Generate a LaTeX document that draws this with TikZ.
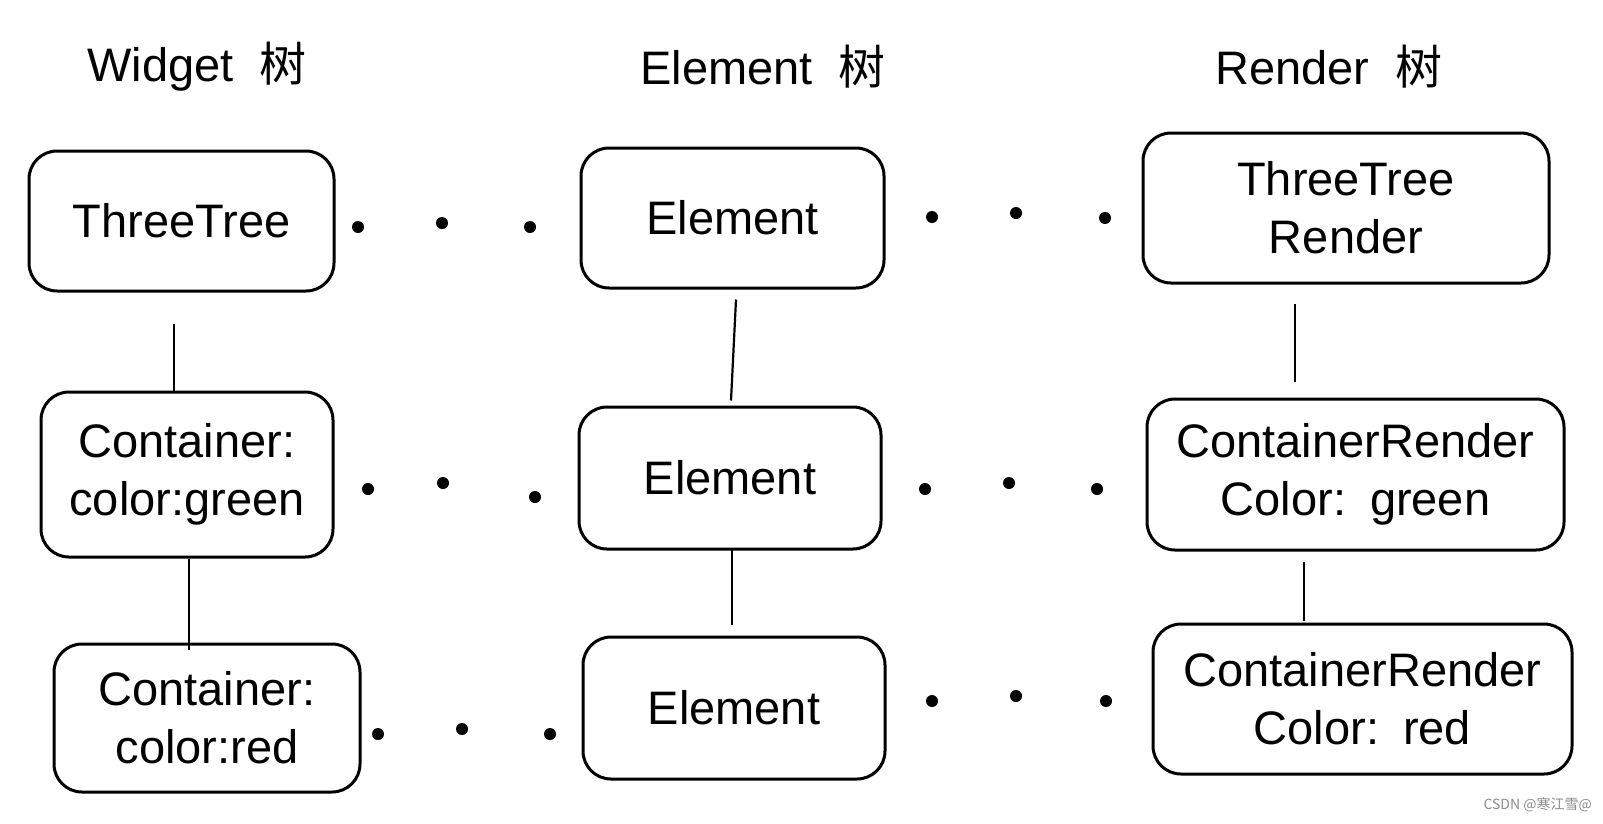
\documentclass[tikz,border=0pt]{standalone}
\usepackage{fontspec}
\setmainfont{Liberation Sans}
\newfontfamily\cjk{Noto Sans CJK SC}
\usetikzlibrary{calc}
\begin{document}
\begin{tikzpicture}[x=1pt,y=-1pt,
  box/.style={draw=black,line width=3pt,rounded corners=28pt,align=center,inner sep=0pt,
     font=\fontsize{47}{58}\selectfont},
  ttl/.style={font=\fontsize{47}{58}\selectfont,inner sep=0pt},
  link/.style={draw=black,line width=2.2pt},
  dot/.style={fill=black}]
\useasboundingbox (0,0) rectangle (1603,823);
% titles
\node[ttl] (tw) at (197,67) {Widget\hspace{26pt}{\cjk 树}};
\node[ttl] (te) at (763,67) {Element\hspace{26pt}{\cjk 树}};
\node[ttl] (tr) at (1329,67) {Render\hspace{26pt}{\cjk 树}};
% boxes
\node[box,minimum width=305pt,minimum height=140pt] (w1) at (181.5,221) {ThreeTree};
\node[box,minimum width=303pt,minimum height=140pt] (e1) at (732.5,218) {Element};
\node[box,minimum width=406pt,minimum height=150pt] (r1) at (1346,208) {ThreeTree\\Render};
\node[box,minimum width=292pt,minimum height=165pt] (w2) at (187,474.5) {Container:\\color:green};
\node[box,minimum width=302pt,minimum height=142pt] (e2) at (730,478) {Element};
\node[box,minimum width=417pt,minimum height=151pt] (r2) at (1355.5,474.5) {ContainerRender\\Color:\hspace{24pt}green};
\node[box,minimum width=306pt,minimum height=148pt] (w3) at (207,718) {Container:\\color:red};
\node[box,minimum width=302pt,minimum height=142pt] (e3) at (734,708) {Element};
\node[box,minimum width=419pt,minimum height=150pt] (r3) at (1362.5,699) {ContainerRender\\Color:\hspace{24pt}red};
% vertical connectors
\draw[link] ($(w1.south)+(-7.5,31)$) -- ($(w2.north)+(-13,0)$);
\draw[link] ($(w2.south)+(2,0)$) -- ($(w3.north)+(-18,7)$);
\draw[link] ($(e1.south)+(3.5,10)$) -- ($(e2.north)+(1,-5)$);
\draw[link] ($(e2.south)+(2,-2)$) -- ($(e3.north)+(-2,-11)$);
\draw[link] ($(r1.south)+(-51,19)$) -- ($(r2.north)+(-60.5,-16)$);
\draw[link] ($(r2.south)+(-51.5,10)$) -- ($(r3.north)+(-58.5,-2)$);
% dots
\foreach \x/\y in {358/227,442/223,530/227, 932/217,1016/213,1105/218,
                   368/489,443/483,535/497, 925/489,1009/483,1097/489,
                   378/734,462/729,550/734, 932/701,1016/696,1106/701}
  \fill[dot] (\x,\y) circle (6);
% watermark
\node[anchor=east,inner sep=0pt,text=black!45,font=\cjk\fontsize{14}{16}\selectfont] (wm) at (1592,805) {CSDN @寒江雪@};
\end{tikzpicture}
\end{document}
